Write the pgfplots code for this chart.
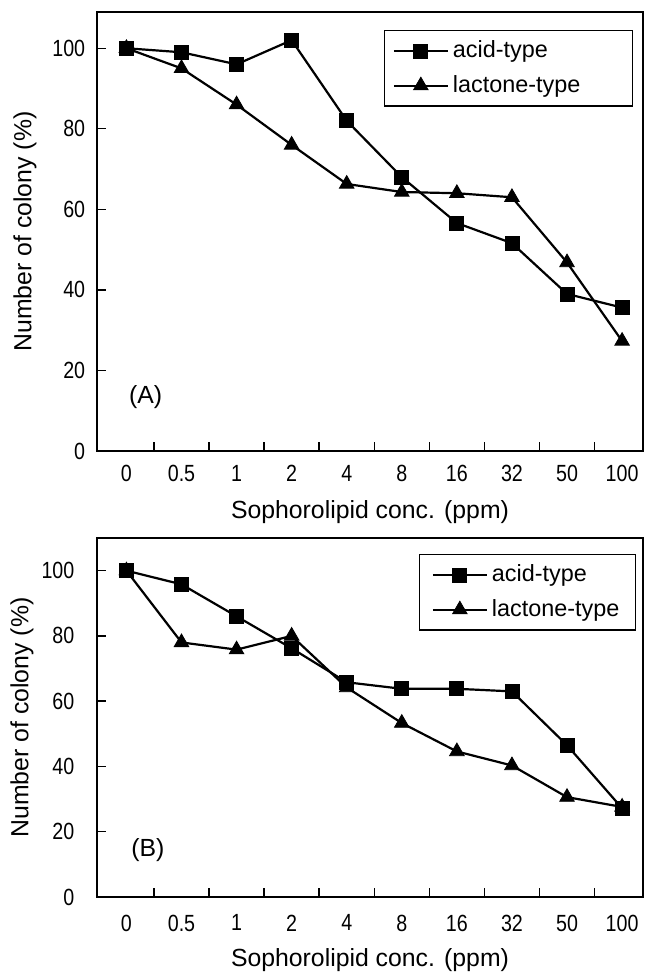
\documentclass[border=0pt]{standalone}
\usepackage{pgfplots}
\pgfplotsset{compat=1.18}
\usepackage{fontspec}
\setmainfont{Liberation Sans}
\newfontfamily\tickfont[FakeStretch=0.84]{Liberation Sans}

\pgfplotsset{
  panel/.style={
    scale only axis, width=273pt,
    xmin=-0.534, xmax=9.38, ymin=0,
    ytick={0,20,...,100},
    xtick={0.5,1.5,...,8.5}, xticklabels={},
    extra x ticks={0,...,9},
    extra x tick labels={0,0.5,1,2,4,8,16,32,50,100},
    tick label style={font=\tickfont\fontsize{11.7}{14}\selectfont},
    tick pos=left, tick align=inside, major tick length=4.5pt,
    axis line style={line width=0.7pt}, tick style={line width=0.7pt, black},
    /pgf/number format/assume math mode=true,
    xlabel={Sophorolipid conc. (ppm)}, ylabel={Number of colony (\%)},
    label style={font=\fontsize{12.4}{15}\selectfont},
    xlabel style={at={(axis description cs:0.5,0)}, anchor=center},
    ylabel style={at={(axis description cs:0,0.5)}, anchor=center},
    legend cell align=left,
    legend image code/.code={\draw[mark repeat=2, mark phase=2] plot coordinates {(0pt,0pt) (13.5pt,0pt) (27pt,0pt)};},
    legend style={draw=black, line width=0.6pt, row sep=3pt, inner xsep=4pt, inner ysep=3pt,
      font=\fontsize{11.7}{14}\selectfont},
  },
  acid/.style={black, line width=1.1pt, mark=square*, mark size=3.5pt, mark options={solid, line width=0.4pt}},
  lact/.style={black, line width=1.1pt, mark=triangle*, mark size=4.2pt, mark options={solid, line width=0.4pt}},
}

\begin{document}
\fontsize{12.4}{15}\selectfont
\begin{tikzpicture}
\useasboundingbox (0,0) rectangle (323pt,-486pt);

\begin{axis}[panel, at={(48.5pt,-6pt)}, anchor=north west, height=219.5pt, ymax=109,
  xlabel style={yshift=-30.5pt}, ylabel style={yshift=36pt},
  yticklabel style={xshift=-1.6pt},
  extra x tick style={major tick length=0pt, tick label style={yshift=-2.75pt}},
  legend style={at={(axis description cs:1,1)}, anchor=north east, xshift=-5pt, yshift=-9pt}]
\addplot[acid] coordinates {(0,100) (1,99) (2,96) (3,102) (4,82) (5,68) (6,56.6) (7,51.6) (8,39) (9,35.6)};
\addlegendentry{acid-type\hspace*{20pt}}
\addplot[lact] coordinates {(0,100) (1,95) (2,86) (3,76) (4,66.3) (5,64.3) (6,64) (7,63) (8,46.8) (9,27.3)};
\addlegendentry{lactone-type\hspace*{20pt}}
\node at (axis cs:0.35,13.5) {(A)};
\end{axis}

\begin{axis}[panel, at={(48.5pt,-269pt)}, anchor=north west, height=179.5pt, ymax=110,
  xlabel style={yshift=-31.5pt}, ylabel style={yshift=37.5pt},
  yticklabel style={xshift=-7pt},
  extra x tick style={major tick length=0pt, tick label style={yshift=-4.5pt}},
  legend style={at={(axis description cs:1,1)}, anchor=north east, xshift=-3.5pt, yshift=-8pt, inner xsep=6pt}]
\addplot[acid] coordinates {(0,100) (1,95.8) (2,86) (3,76.2) (4,65.8) (5,63.8) (6,63.8) (7,63) (8,46.5) (9,27.2)};
\addlegendentry{acid-type}
\addplot[lact] coordinates {(0,100) (1,78) (2,75.8) (3,80) (4,64.2) (5,53.3) (6,44.6) (7,40.3) (8,30.6) (9,27.6)};
\addlegendentry{lactone-type}
\node at (axis cs:0.39,14.4) {(B)};
\end{axis}
\end{tikzpicture}
\end{document}
